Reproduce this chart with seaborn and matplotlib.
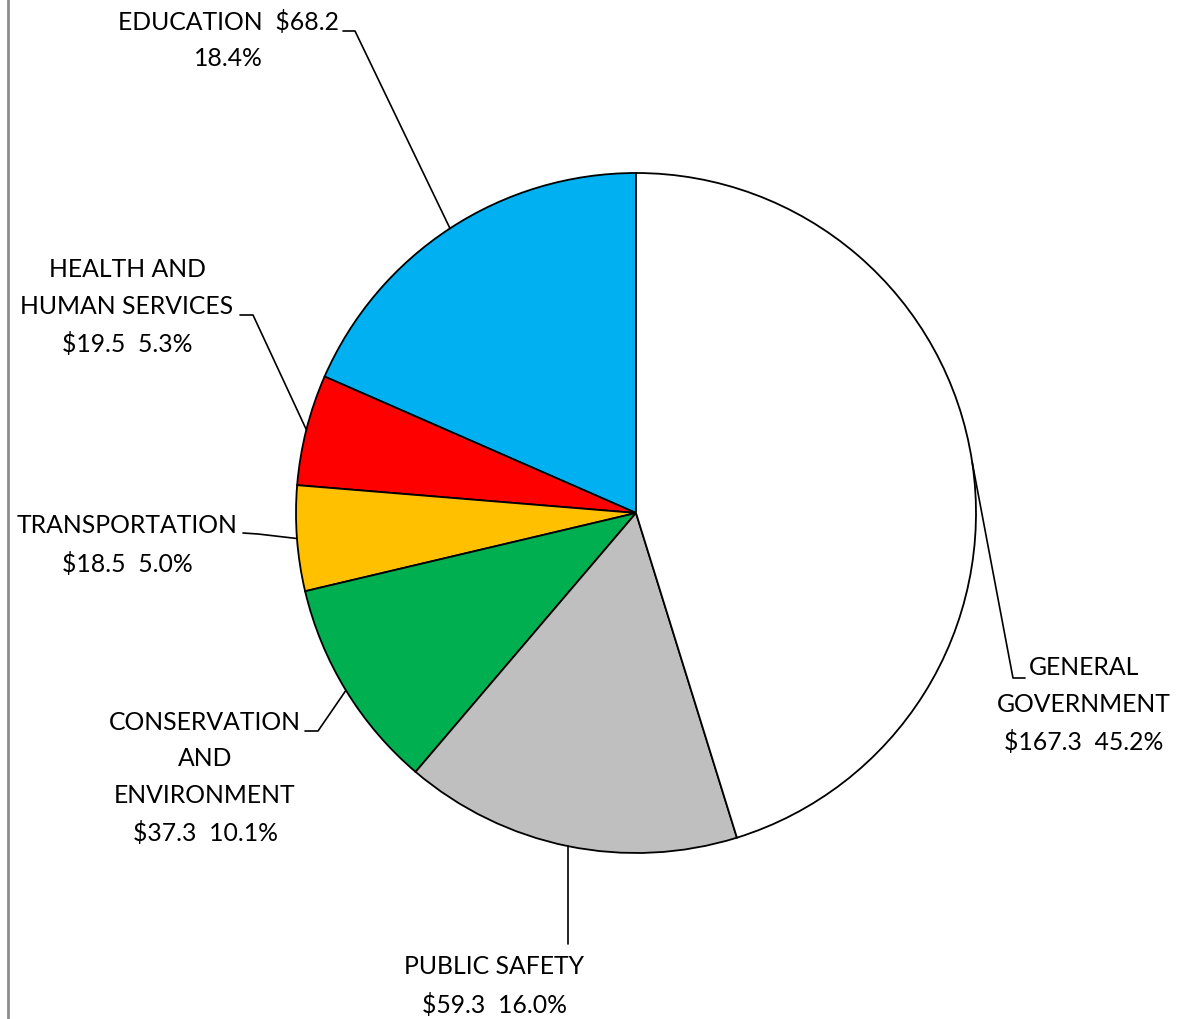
import numpy as np
import matplotlib
matplotlib.use("Agg")
import matplotlib.pyplot as plt
import seaborn as sns

# budget by function ($ millions) and share of total
categories = ["EDUCATION", "HEALTH AND\nHUMAN SERVICES", "TRANSPORTATION",
              "CONSERVATION\nAND\nENVIRONMENT", "PUBLIC SAFETY", "GENERAL\nGOVERNMENT"]
amounts = [68.2, 19.5, 18.5, 37.3, 59.3, 167.3]
percents = [18.4, 5.3, 5.0, 10.1, 16.0, 45.2]
colors = ["#00B0F0", "#FF0000", "#FFC000", "#00B050", "#BFBFBF", "#FFFFFF"]

sns.set_theme(style="white")
plt.rcParams["font.family"] = ["Lato", "DejaVu Sans"]

W, H = 1177, 1020
fig = plt.figure(figsize=(W / 100, H / 100), dpi=100)
ax = fig.add_axes([0, 0, 1, 1])

cx, cy, r = 636, H - 514, 340
wedges, _ = ax.pie(
    amounts,
    colors=colors,
    startangle=90,
    counterclock=True,
    center=(cx, cy),
    radius=r,
    wedgeprops=dict(edgecolor="black", linewidth=1.3),
)
ax.set_xlim(0, W)
ax.set_ylim(0, H)
ax.set_aspect("equal")
ax.axis("off")

# label block centers and leader hooks (pixel positions, y from top)
label_pos = [(228, 40), (127, 307), (127, 545), (205, 778), (494, 986), (1084, 705)]
hooks = [
    [(343, 32), (355, 32)],
    [(240, 316), (253, 316)],
    [(243, 534), (258, 535)],
    [(305, 732), (318, 732)],
    [(568, 945)],
    [(1025, 679), (1013, 679)],
]

for i, w in enumerate(wedges):
    if i == 0:
        txt = f"{categories[i]}  ${amounts[i]}\n{percents[i]:.1f}%"
    else:
        txt = f"{categories[i]}\n${amounts[i]}  {percents[i]:.1f}%"
    lx, ly = label_pos[i]
    ax.text(lx, H - ly, txt, ha="center", va="center", multialignment="center",
            fontsize=17.8, linespacing=1.72, color="black")

    mid = np.deg2rad((w.theta1 + w.theta2) / 2)
    ax_pt = (cx + r * np.cos(mid), cy + r * np.sin(mid))
    pts = [(x, H - y) for x, y in hooks[i]] + [ax_pt]
    if i == 4:
        pts = [(ax_pt[0], H - hooks[i][0][1]), ax_pt]
    xs, ys = zip(*pts)
    ax.plot(xs, ys, color="black", linewidth=1.2)

# left border of the chart area
ax.plot([8, 8], [0, H], color="#8c8c8c", linewidth=2)

fig.savefig("out.png", dpi=100)
